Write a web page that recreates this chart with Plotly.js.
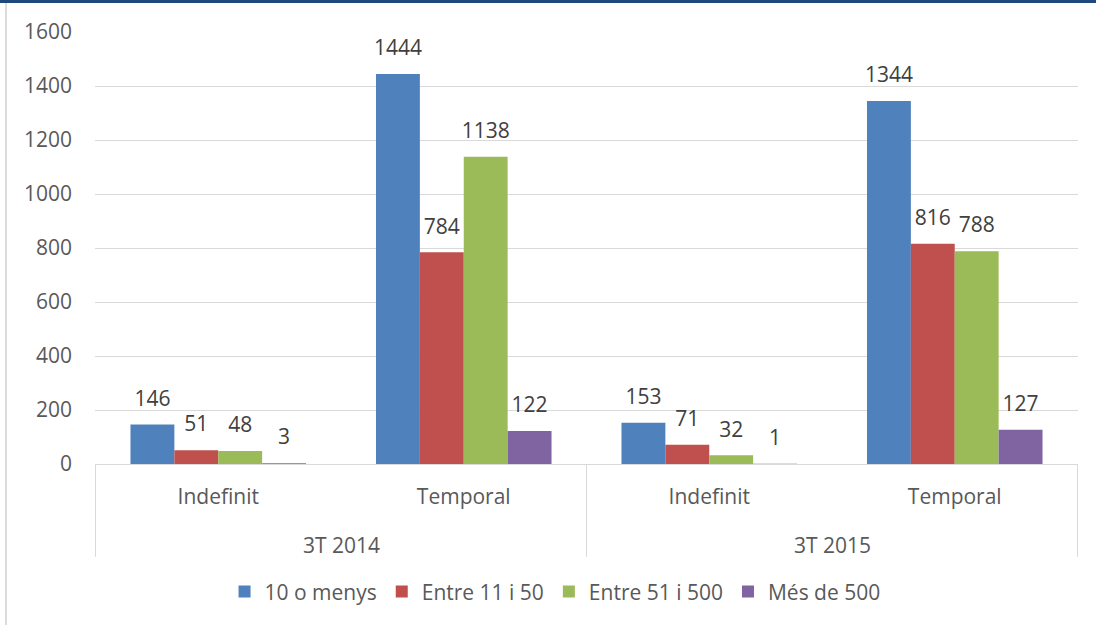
<!DOCTYPE html>
<html>
<head>
<meta charset="utf-8">
<script src="https://cdn.plot.ly/plotly-3.0.1.min.js"></script>
<style>
  html, body { margin: 0; padding: 0; background: #fff; }
  #wrap { position: relative; width: 1096px; height: 625px; }
  #chart { width: 1096px; height: 625px; }
  #topbar { position: absolute; left: 0; top: 0; width: 1096px; height: 3px; background: #1f497d; }
  #leftline { position: absolute; left: 5px; top: 3px; width: 2px; height: 622px; background: #dcdcdc; }
</style>
</head>
<body>
<div id="wrap">
  <div id="chart"></div>
  <div id="topbar"></div>
  <div id="leftline"></div>
</div>
<script>
// Data
var periods = ['3T 2014', '3T 2014', '3T 2015', '3T 2015'];
var contractTypes = ['Indefinit', 'Temporal', 'Indefinit', 'Temporal'];
var seriesNames = ['10 o menys', 'Entre 11 i 50', 'Entre 51 i 500', 'Més de 500'];
var menys10 = [146, 1444, 153, 1344];
var entre11i50 = [51, 784, 71, 816];
var entre51i500 = [48, 1138, 32, 788];
var mes500 = [3, 122, 1, 127];
var colors = ['#4f81bd', '#c0504d', '#9bbb59', '#8064a2'];

var FONT = '"Open Sans", Lato, sans-serif';
var FS = 21;
var allSeries = [menys10, entre11i50, entre51i500, mes500];
var keys = periods.map(function (p, i) { return p + ' | ' + contractTypes[i]; });

var traces = [];
allSeries.forEach(function (vals, i) {
  traces.push({
    type: 'bar',
    name: seriesNames[i],
    x: keys,
    y: vals,
    offsetgroup: 'g' + i,
    marker: { color: colors[i] },
    hoverinfo: 'y+name'
  });
});
allSeries.forEach(function (vals, i) {
  traces.push({
    type: 'scatter',
    mode: 'markers+text',
    x: keys,
    y: vals,
    offsetgroup: 'g' + i,
    marker: { size: 20, opacity: 0, color: colors[i] },
    text: vals.map(String),
    textposition: 'top center',
    textfont: { family: FONT, size: FS, color: '#404040' },
    cliponaxis: false,
    showlegend: false,
    hoverinfo: 'skip'
  });
});

// group boundaries and centres for the outer category level
var shapes = [];
var annotations = [];
var start = 0;
for (var i = 1; i <= periods.length; i++) {
  if (i === periods.length || periods[i] !== periods[start]) {
    annotations.push({
      xref: 'x', yref: 'paper',
      x: (start + i - 1) / 2, y: -0.1875,
      yanchor: 'middle', xanchor: 'center',
      text: periods[start], showarrow: false,
      font: { family: FONT, size: FS, color: '#595959' }
    });
    start = i;
  }
}
var bounds = [-0.5];
for (var j = 1; j < periods.length; j++) {
  if (periods[j] !== periods[j - 1]) bounds.push(j - 0.5);
}
bounds.push(periods.length - 0.5);
bounds.forEach(function (b) {
  shapes.push({
    type: 'line', xref: 'x', yref: 'paper',
    x0: b, x1: b, y0: 0, y1: -0.215,
    line: { color: '#d9d9d9', width: 1 }
  });
});

var layout = {
  width: 1096,
  height: 625,
  margin: { l: 95, r: 18, t: 32, b: 161 },
  paper_bgcolor: '#ffffff',
  plot_bgcolor: '#ffffff',
  font: { family: FONT, size: FS, color: '#595959' },
  barmode: 'group',
  bargap: 0.285,
  bargroupgap: 0,
  scattermode: 'group',
  scattergap: 0.285,
  showlegend: true,
  legend: {
    orientation: 'h',
    x: 0.468,
    xanchor: 'center',
    y: -0.296,
    yanchor: 'middle',
    font: { family: FONT, size: FS, color: '#595959' },
    traceorder: 'normal'
  },
  xaxis: {
    type: 'category',
    tickvals: keys,
    ticktext: contractTypes,
    showline: true,
    linecolor: '#d9d9d9',
    linewidth: 1,
    ticks: '',
    ticklabelstandoff: 14,
    tickfont: { family: FONT, size: FS, color: '#595959' },
    showgrid: false,
    zeroline: false
  },
  yaxis: {
    range: [0, 1600],
    dtick: 200,
    tick0: 0,
    showgrid: true,
    gridcolor: '#d9d9d9',
    gridwidth: 1,
    zeroline: false,
    showline: false,
    ticks: '',
    ticklabelstandoff: 22,
    tickfont: { family: FONT, size: FS, color: '#595959' }
  },
  shapes: shapes,
  annotations: annotations
};

Plotly.newPlot('chart', traces, layout, { displayModeBar: false, staticPlot: true });
</script>
</body>
</html>
